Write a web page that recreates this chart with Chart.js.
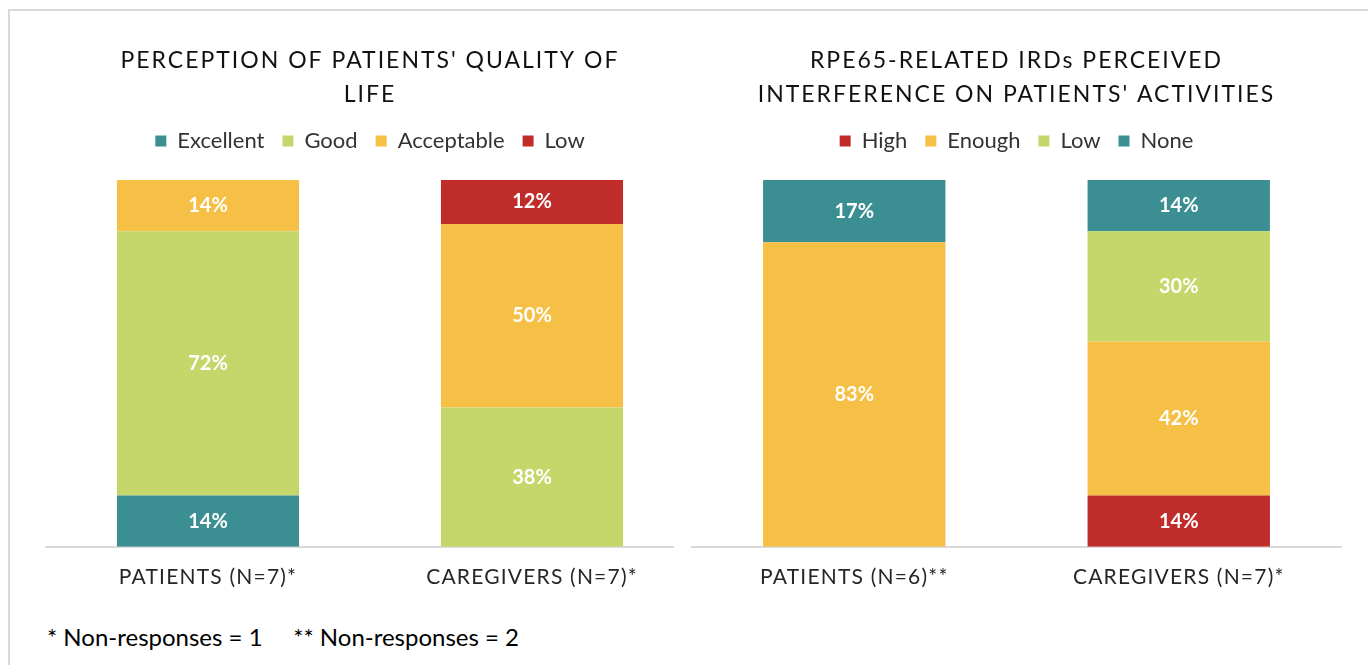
<!DOCTYPE html>
<html>
<head>
<meta charset="utf-8">
<script src="https://cdn.jsdelivr.net/npm/chart.js@4.4.1/dist/chart.umd.min.js"></script>
<style>
html, body { margin: 0; padding: 0; background: #fff; }
body { width: 1368px; height: 665px; position: relative; overflow: hidden; font-family: Lato, sans-serif; }
.frame { position: absolute; left: 8px; top: 9px; width: 1400px; height: 700px;
         border-top: 2px solid #d9d9d9; border-left: 2px solid #d9d9d9; }
.clip { position: absolute; top: 10px; height: 600px; overflow: hidden; }
#leftClip { left: 10px; width: 664px; }
#rightClip { left: 684px; width: 684px; }
.clip canvas { position: absolute; left: 0; top: 0; }
.note { position: absolute; left: 47px; top: 622px; font-size: 24px; color: #000; white-space: pre; }
</style>
</head>
<body>
<div class="frame"></div>
<div class="clip" id="leftClip"><canvas id="quality" width="684" height="600"></canvas></div>
<div class="clip" id="rightClip"><canvas id="interference" width="684" height="600"></canvas></div>
<div class="note">* Non-responses = 1     ** Non-responses = 2</div>

<script>
// ===============================
// DATI
// ===============================
const qualityLabels = ["PATIENTS (N=7)*", "CAREGIVERS (N=7)*"];
const qualityExcellent = [14, 0];
const qualityGood = [72, 38];
const qualityAcceptable = [14, 50];
const qualityLow = [0, 12];

const interfLabels = ["PATIENTS (N=6)**", "CAREGIVERS (N=7)*"];
const interfHigh = [0, 14];
const interfEnough = [83, 42];
const interfLow = [0, 30];
const interfNone = [17, 14];

const TEAL = "#3b8f92";
const GREEN = "#c5d66a";
const YELLOW = "#f6bf45";
const RED = "#c02c29";

// ===============================
// PLUGIN: etichette % dentro le barre
// ===============================
const valueLabels = {
    id: "valueLabels",
    afterDatasetsDraw(chart) {
        const ctx = chart.ctx;
        ctx.save();
        ctx.font = "bold 20px Lato";
        ctx.fillStyle = "#ffffff";
        ctx.textAlign = "center";
        ctx.textBaseline = "middle";
        chart.data.datasets.forEach((ds, i) => {
            chart.getDatasetMeta(i).data.forEach((bar, j) => {
                const v = ds.data[j];
                if (!v) return;
                ctx.fillText(v + "%", bar.x, (bar.y + bar.base) / 2);
            });
        });
        ctx.restore();
    }
};

// letter spacing per titolo e assi (stile Gill Sans spaziato)
function spaced(obj, method, spacing) {
    if (!obj || obj["_sp_" + method]) return;
    const orig = obj[method];
    obj[method] = function (...args) {
        const ctx = this.ctx;
        ctx.save();
        ctx.letterSpacing = spacing;
        orig.apply(this, args);
        ctx.restore();
    };
    obj["_sp_" + method] = true;
}

const spacedText = {
    id: "spacedText",
    beforeInit(chart) {
        const legend = chart.legend;
        if (legend) {
            const fit = legend.fit;
            legend.fit = function () {
                fit.bind(legend)();
                this.height += 18;
            };
        }
    },
    beforeDraw(chart) {
        spaced(chart.titleBlock, "draw", "2px");
        spaced(chart.scales.x, "drawLabels", "1.2px");
    }
};

function stackedChart(canvasId, titleLines, labels, datasets, padLeft, padRight) {
    return new Chart(document.getElementById(canvasId), {
        type: "bar",
        data: { labels, datasets },
        plugins: [valueLabels, spacedText],
        options: {
            responsive: false,
            animation: false,
            layout: { padding: { left: padLeft, right: padRight, top: 0, bottom: 2 } },
            datasets: { bar: { categoryPercentage: 0.562, barPercentage: 1 } },
            scales: {
                x: {
                    stacked: true,
                    grid: { display: false, drawTicks: false },
                    border: { display: true, color: "#d9d9d9", width: 2 },
                    ticks: { color: "#262626", font: { family: "Lato", size: 21 }, padding: 18 }
                },
                y: {
                    stacked: true,
                    display: false,
                    min: 0,
                    max: 100
                }
            },
            plugins: {
                title: {
                    display: true,
                    text: titleLines,
                    color: "#111111",
                    font: { family: "Lato", size: 23, weight: "normal", lineHeight: "34px" },
                    padding: { top: 34, bottom: 0 }
                },
                legend: {
                    position: "top",
                    labels: {
                        color: "#333333",
                        font: { family: "Lato", size: 22 },
                        boxWidth: 11,
                        boxHeight: 11,
                        padding: 18
                    }
                },
                tooltip: { enabled: false }
            }
        }
    });
}

stackedChart("quality",
    ["PERCEPTION OF PATIENTS' QUALITY OF", "LIFE"],
    qualityLabels,
    [
        { label: "Excellent", data: qualityExcellent, backgroundColor: TEAL },
        { label: "Good", data: qualityGood, backgroundColor: GREEN },
        { label: "Acceptable", data: qualityAcceptable, backgroundColor: YELLOW },
        { label: "Low", data: qualityLow, backgroundColor: RED }
    ],
    36, 0);

stackedChart("interference",
    ["RPE65-RELATED IRDs PERCEIVED", "INTERFERENCE ON PATIENTS' ACTIVITIES"],
    interfLabels,
    [
        { label: "High", data: interfHigh, backgroundColor: RED },
        { label: "Enough", data: interfEnough, backgroundColor: YELLOW },
        { label: "Low", data: interfLow, backgroundColor: GREEN },
        { label: "None", data: interfNone, backgroundColor: TEAL }
    ],
    8, 27);
</script>
</body>
</html>
